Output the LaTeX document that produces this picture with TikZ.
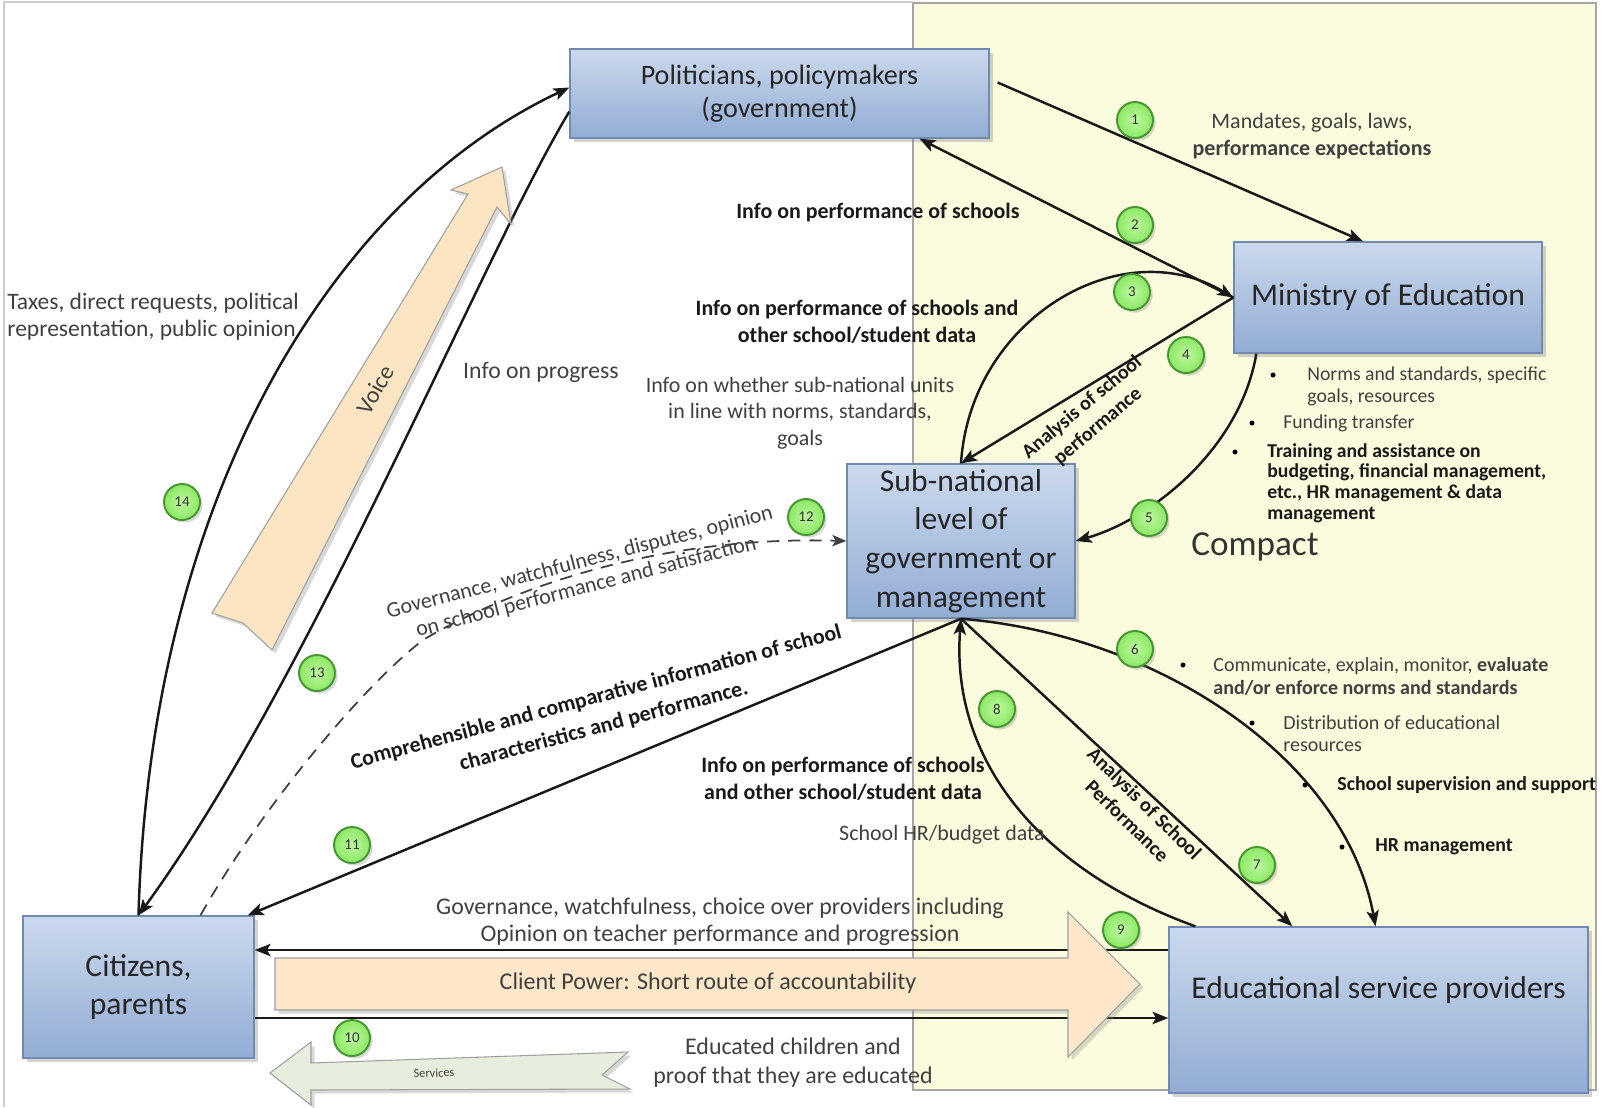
\documentclass[tikz,border=0pt]{standalone}
\usepackage{fontspec}
\setmainfont{Carlito}
\usetikzlibrary{arrows.meta,shadows}
\newcommand\fsz[2]{\fontsize{#1}{#2}\selectfont}
\definecolor{boxtop}{RGB}{203,217,237}
\definecolor{boxbot}{RGB}{146,172,212}
\definecolor{boxline}{RGB}{112,138,178}
\definecolor{compactbg}{RGB}{251,252,221}
\definecolor{beigefill}{RGB}{252,231,200}
\definecolor{voicefill}{RGB}{251,229,194}
\definecolor{gfill}{RGB}{140,232,100}
\definecolor{gfilllight}{RGB}{190,248,160}
\definecolor{gline}{RGB}{70,150,50}
\definecolor{svcfill}{RGB}{232,238,222}
\begin{document}
\begin{tikzpicture}[x=0.02cm,y=-0.02cm,
  box/.style={draw=boxline, line width=0.8pt, top color=boxtop, bottom color=boxbot,
    drop shadow={opacity=0.35,shadow xshift=2.5pt,shadow yshift=-2.5pt},
    align=center, inner sep=0pt, text=black!85},
  num/.style={circle, draw=gline, line width=1.1pt, inner color=gfilllight, outer color=gfill,
    minimum size=0.72cm, inner sep=0pt, font=\fsz{8.5}{9}, text=black!80,
    drop shadow={opacity=0.3,shadow xshift=1.5pt,shadow yshift=-1.5pt}},
  conn/.style={line width=1.4pt, draw=black!90},
  arr/.style={conn, -{Stealth[length=9pt,width=7pt,inset=2pt]}},
  dashedarr/.style={line width=1pt, draw=black!75, dash pattern=on 7pt off 5pt, -{Stealth[length=8pt,width=6.5pt,inset=2pt]}},
  lbl/.style={font=\fsz{12.5}{15}, text=black!75, align=center, inner sep=0pt},
  blbl/.style={font=\bfseries\fsz{12.5}{15}, text=black!90, align=center, inner sep=0pt},
  dot/.style={circle, fill=black, inner sep=0pt, minimum size=0.1cm},
  bigarrow/.style={draw=gray!75, line width=0.6pt, drop shadow={opacity=0.3,shadow xshift=2pt,shadow yshift=-2pt}}
]
\useasboundingbox (0,0) rectangle (1602,1107);
% background
\fill[compactbg] (913,3) rectangle (1596,1090);
\draw[gray!70, line width=0.8pt] (913,3) rectangle (1596,1090);
\draw[gray!40, line width=0.8pt] (4,1107) -- (4,2) -- (913,2);

% boxes
\node[box, minimum width=8.38cm, minimum height=1.78cm, font=\fsz{16}{19}] (pol) at (779.5,93.5) {Politicians, policymakers\\(government)};
\node[box, minimum width=6.16cm, minimum height=2.22cm, font=\fsz{18}{22}] (min) at (1388,297.5) {Ministry of Education};
\node[box, minimum width=4.56cm, minimum height=3.08cm, font=\fsz{18}{22}] (sub) at (961,541) {Sub-national\\level of\\government or\\management};
\node[box, minimum width=4.62cm, minimum height=2.84cm, font=\fsz{18}{22}] (cit) at (138.5,987) {Citizens,\\parents};
\node[box, minimum width=8.38cm, minimum height=3.32cm] (edu) at (1378.5,1010) {};
\node[font=\fsz{18}{22}, text=black!85, inner sep=0pt] (edutxt) at (1378.5,990) {Educational service providers};

% connectors
\draw[arr] ([shift={(8,-11)}]pol.east) -- ([shift={(-25,0)}]min.north);
\draw[arr] (min.west) -- ([shift={(140,0)}]pol.south);
\draw[arr] (sub.north) .. controls (970,320) and (1120,230) .. (min.west);
\draw[arr] (min.west) -- (sub.north);
\draw[arr] ([shift={(23,0)}]min.south west) .. controls (1240,450) and (1150,520) .. (sub.east);
\draw[arr] (sub.south) .. controls (1160,635) and (1345,760) .. ([shift={(-3,0)}]edu.north);
\draw[arr] (sub.south) -- ([shift={(124,0)}]edu.north west);
\draw[arr] ([shift={(27,0)}]edu.north west) .. controls (1040,870) and (950,760) .. (sub.south);
\draw[arr] ([shift={(0,-60)}]edu.west) -- ([shift={(0,-37)}]cit.east);
\draw[arr] ([shift={(0,31)}]cit.east) -- ([shift={(0,8)}]edu.west);
\draw[arr] (sub.south) -- ([shift={(-7,0)}]cit.north east);
\coordinate (dmid) at (423,640);
\draw[dashedarr] ([shift={(62,0)}]cit.north) .. controls (261,808) and (363,686) .. (dmid) .. controls (490,600) and (640,535) .. (sub.west);
\draw[arr] ([shift={(0,18)}]pol.west) .. controls (480,260) and (310,680) .. (cit.north);
\draw[arr] (cit.north) .. controls (150,500) and (330,200) .. ([shift={(0,-6)}]pol.west);

% big arrows
\filldraw[bigarrow, fill=beigefill] (275,958) -- (1068,958) -- (1068,912) -- (1140,984) -- (1068,1057) -- (1068,1010) -- (275,1010) -- cycle;
\filldraw[bigarrow, fill=voicefill] (502,167) -- (511,224) -- (497,207) -- (272,650) -- (243,623) -- (212,613) -- (468,194) -- (451,190) -- cycle;
\filldraw[bigarrow, fill=svcfill] (270,1073) -- (311,1042) -- (311,1063) -- (628,1052) -- (602,1075) -- (630,1089) -- (311,1090) -- (311,1105) -- cycle;

% numbered circles
\node[num] (c1) at (1135,120) {1};
\node[num] (c2) at (1135,225) {2};
\node[num] (c3) at (1132,292) {3};
\node[num] (c4) at (1186,355) {4};
\node[num] (c5) at (1149,518) {5};
\node[num] (c6) at (1135,649) {6};
\node[num] (c7) at (1257,865) {7};
\node[num] (c8) at (997,709) {8};
\node[num] (c9) at (1121,930) {9};
\node[num] (c10) at (352,1038) {10};
\node[num] (c11) at (352,845) {11};
\node[num] (c12) at (806,517) {12};
\node[num] (c13) at (317,673) {13};
\node[num] (c14) at (182,502) {14};

% labels
\node[lbl, font=\fsz{13.4}{15.3}, align=left, anchor=west] (taxes) at (7,316.5) {Taxes, direct requests, political\\representation, public opinion};
\node[lbl, font=\fsz{13.5}{16}] (progress) at (541,372) {Info on progress};
\node[blbl] (perf2) at (878,213) {Info on performance of schools};
\node[blbl, font=\bfseries\fsz{12.5}{15.3}] (perf3) at (857,321.5) {Info on performance of schools and\\other school/student data};
\node[lbl, font=\fsz{12.5}{15}] (whether) at (800,413) {Info on whether sub-national units\\in line with norms, standards,\\goals};
\node[lbl, font=\fsz{12.5}{15.3}] (mand) at (1312,136.5) {Mandates, goals, laws,\\\textbf{performance expectations}};

\node[dot] (mb1) at (1273,375) {};
\node[lbl, font=\fsz{11.2}{12.5}, align=left, anchor=west] (mt1) at (1307,386) {Norms and standards, specific\\goals, resources};
\node[dot] (mb2) at (1252,423) {};
\node[lbl, font=\fsz{11.2}{12.5}, anchor=west] (mt2) at (1283,423) {Funding transfer};
\node[dot] (mb3) at (1235,452) {};
\node[blbl, font=\bfseries\fsz{11.2}{11.8}, align=left, anchor=west] (mt3) at (1267,483) {Training and assistance on\\budgeting, financial management,\\etc., HR management \& data\\management};

\node[lbl, font=\fsz{20}{24}, text=black!80] (compact) at (1255,547) {Compact};

\node[dot] (eb1) at (1183,665) {};
\node[lbl, font=\fsz{11.4}{13}, align=left, anchor=west] (et1) at (1213,676.5) {Communicate, explain, monitor, \textbf{evaluate}\\\textbf{and/or enforce norms and standards}};
\node[dot] (eb2) at (1252,723) {};
\node[lbl, font=\fsz{11.4}{12.5}, align=left, anchor=west] (et2) at (1283,734) {Distribution of educational\\resources};
\node[dot] (eb3) at (1305,785) {};
\node[blbl, font=\bfseries\fsz{11.3}{13}, anchor=west] (et3) at (1337,785) {School supervision and support};
\node[dot] (eb4) at (1342,847) {};
\node[blbl, font=\bfseries\fsz{11.3}{13}, anchor=west] (et4) at (1375,847) {HR management};

\node[blbl, font=\bfseries\fsz{12.5}{15.3}] (perf8) at (843,778.5) {Info on performance of schools\\and other school/student data};
\node[lbl] (hrdata) at (942,835) {School HR/budget data};
\node[blbl, font=\bfseries\fsz{11.5}{14}, rotate=-44.5] (anal7) at (1136,812) {Analysis of School\\Performance};
\node[blbl, font=\bfseries\fsz{11.5}{14}, rotate=40] (anal4) at (1090,417) {Analysis of school\\performance};
\node[lbl, font=\fsz{13.6}{15.3}] (gov9) at (720,921.5) {Governance, watchfulness, choice over providers including\\Opinion on teacher performance and progression};
\node[lbl, font=\fsz{13.7}{16}] (client) at (708,983) {Client Power: Short route of accountability};
\node[lbl, font=\fsz{13.6}{16.4}] (educated) at (793,1062.5) {Educated children and\\proof that they are educated};
\node[lbl, font=\fsz{7}{8}, rotate=2] (services) at (434,1073) {Services};
\node[blbl, font=\bfseries\fsz{12.5}{17}, rotate=15] (comp11) at (600,712) {Comprehensible and comparative information of school\\characteristics and performance.};
\node[lbl, font=\fsz{12.5}{14.5}, rotate=14.5] (gov12) at (583,575) {Governance, watchfulness, disputes, opinion\\on school performance and satisfaction};
\node[lbl, font=\fsz{13.5}{16}, rotate=60.5] (voice) at (375,390) {Voice};
\end{tikzpicture}
\end{document}
